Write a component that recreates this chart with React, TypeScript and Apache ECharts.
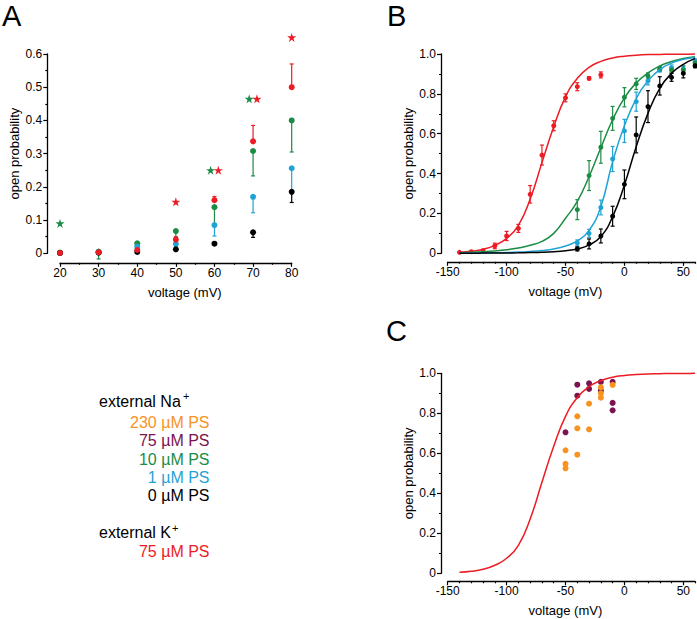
import React, { useEffect, useRef } from 'react';
import * as echarts from 'echarts';

const FONT = "'Liberation Sans', Arial, Helvetica, sans-serif";
const RED = '#ec1c24';
const GREEN = '#1b8c45';
const CYAN = '#1fa3d4';
const BLACK = '#000000';
const ORANGE = '#f7931e';
const PURPLE = '#7a1350';

// ---------- Panel A ----------
const voltageA = [20, 30, 40, 50, 60, 70, 80];
const poA_0 = [0.001, 0.002, 0.004, 0.012, 0.029, 0.063, 0.185];
const errA_0 = [0, 0, 0, 0, 0, 0.015, 0.032];
const poA_1 = [0.001, 0.003, 0.02, 0.028, 0.085, 0.17, 0.256];
const errA_1 = [0, 0, 0.005, 0.008, 0.033, 0.048, 0.07];
const poA_10 = [0.002, 0.005, 0.03, 0.067, 0.139, 0.308, 0.4];
const errA_10 = [0, 0.022, 0.005, 0.02, 0.054, 0.075, 0.095];
const poA_K = [0.001, 0.003, 0.01, 0.041, 0.16, 0.337, 0.5];
const errA_K = [0, 0.005, 0.003, 0.009, 0.011, 0.048, 0.07];
const starGreenX = [20, 59, 69];
const starGreenY = [0.09, 0.25, 0.465];
const starRedX = [50, 61, 71, 80];
const starRedY = [0.155, 0.25, 0.465, 0.65];

// ---------- Panel B ----------
const voltageK = [-140, -130, -120, -110, -100, -90, -80, -70, -60, -50, -40, -30, -20];
const poB_K = [0.005, 0.008, 0.013, 0.037, 0.087, 0.125, 0.296, 0.493, 0.64, 0.78, 0.836, 0.878, 0.895];
const errB_K = [0, 0, 0, 0.014, 0.023, 0.02, 0.044, 0.05, 0.025, 0.02, 0.02, 0.008, 0.015];
const voltageNa = [-40, -30, -20, -10, 0, 10, 20, 30, 40, 50, 60];
const poB_10 = [0.219, 0.39, 0.532, 0.677, 0.783, 0.85, 0.89, 0.925, 0.92, 0.92, 0.955];
const errB_10 = [0.05, 0.075, 0.08, 0.06, 0.048, 0.028, 0.015, 0.012, 0.015, 0.02, 0.01];
const poB_1 = [0.052, 0.1, 0.23, 0.473, 0.614, 0.761, 0.865, 0.92, 0.93, 0.925, 0.965];
const errB_1 = [0.015, 0.02, 0.037, 0.063, 0.058, 0.048, 0.02, 0.01, 0.015, 0.015, 0.01];
const poB_0 = [0.022, 0.047, 0.087, 0.186, 0.346, 0.594, 0.736, 0.84, 0.883, 0.903, 0.941];
const errB_0 = [0.01, 0.025, 0.035, 0.05, 0.072, 0.09, 0.08, 0.046, 0.02, 0.023, 0.01];

// fitted curves
const fitV = [-140, -130, -120, -110, -100, -90, -80, -70, -60, -50, -40, -30, -20, -10, 0, 10, 20, 30, 40, 50, 60];
const fitK = [0.005, 0.01, 0.02, 0.04, 0.075, 0.14, 0.272, 0.455, 0.635, 0.785, 0.878, 0.933, 0.963, 0.98, 0.989, 0.994, 0.997, 0.998, 0.999, 0.999, 1.0];
const fit10 = [0.003, 0.005, 0.008, 0.012, 0.018, 0.027, 0.04, 0.06, 0.1, 0.176, 0.26, 0.385, 0.53, 0.67, 0.78, 0.855, 0.905, 0.94, 0.962, 0.977, 0.986];
const fit1 = [0.001, 0.001, 0.002, 0.003, 0.004, 0.006, 0.009, 0.014, 0.022, 0.037, 0.062, 0.115, 0.235, 0.46, 0.64, 0.775, 0.865, 0.922, 0.954, 0.973, 0.984];
const fit0 = [0.0005, 0.0007, 0.001, 0.0013, 0.0018, 0.0025, 0.0035, 0.005, 0.008, 0.013, 0.022, 0.042, 0.084, 0.184, 0.343, 0.535, 0.702, 0.828, 0.903, 0.948, 0.978];

// ---------- Panel C ----------
const voltageC75 = [-50, -40, -40, -30, -30, -20, -20, -10, -10, -10];
const poC75 = [0.705, 0.943, 0.888, 0.95, 0.922, 0.957, 0.913, 0.957, 0.852, 0.815];
const voltageC230 = [-50, -50, -50, -40, -40, -40, -30, -30, -20, -20, -20, -10];
const poC230 = [0.615, 0.547, 0.525, 0.785, 0.725, 0.593, 0.848, 0.72, 0.93, 0.9, 0.878, 0.942];

// ---------- axis ticks ----------
const majorTicksV = [-150, -100, -50, 0, 50];
const minorTicksV = [-140, -130, -120, -110, -90, -80, -70, -60, -40, -30, -20, -10, 10, 20, 30, 40, 60];

// ---------- legend ----------
const legendNa = ['230 µM PS', '75 µM PS', '10 µM PS', '1 µM PS', '0 µM PS'];
const legendNaColors = [ORANGE, PURPLE, GREEN, CYAN, BLACK];
const legendK = ['75 µM PS'];

const STAR = 'path://M50 0L61.8 35.3H99L68.8 57.1L80.4 92.7L50 70.7L19.6 92.7L31.2 57.1L1 35.3H38.2Z';

function zip(xs: number[], ys: number[]) {
  return xs.map((x, i) => [x, ys[i]]);
}

function errData(xs: number[], ys: number[], down: number[], up: number[]) {
  return xs.map((x, i) => [x, ys[i] - down[i], ys[i] + up[i], ys[i]]);
}

function errSeries(data: number[][], color: string, xi: number, yi: number, cap = 2) {
  return {
    type: 'custom',
    xAxisIndex: xi,
    yAxisIndex: yi,
    clip: false,
    silent: true,
    encode: { x: 0, y: [1, 2] },
    data,
    renderItem: (params: any, api: any) => {
      const x = api.value(0);
      const lo = api.value(1);
      const hi = api.value(2);
      const y = api.value(3);
      const pLo = api.coord([x, lo]);
      const pHi = api.coord([x, hi]);
      const style = { stroke: color, lineWidth: 1.2 };
      const children: any[] = [
        { type: 'line', shape: { x1: pLo[0], y1: pLo[1], x2: pHi[0], y2: pHi[1] }, style },
      ];
      if (lo < y) {
        children.push({ type: 'line', shape: { x1: pLo[0] - cap, y1: pLo[1], x2: pLo[0] + cap, y2: pLo[1] }, style });
      }
      if (hi > y) {
        children.push({ type: 'line', shape: { x1: pHi[0] - cap, y1: pHi[1], x2: pHi[0] + cap, y2: pHi[1] }, style });
      }
      return { type: 'group', children };
    },
  };
}

function dots(data: number[][], color: string, xi: number, yi: number, size: number, symbol = 'circle') {
  return {
    type: 'scatter',
    xAxisIndex: xi,
    yAxisIndex: yi,
    clip: false,
    symbol,
    symbolSize: size,
    itemStyle: { color, opacity: 1 },
    data,
    silent: true,
  };
}

function curve(ys: number[], color: string, xi: number, yi: number) {
  return {
    type: 'line',
    xAxisIndex: xi,
    yAxisIndex: yi,
    clip: false,
    data: zip(fitV, ys),
    showSymbol: false,
    smooth: 0.5,
    lineStyle: { color, width: 1.5 },
    silent: true,
  };
}

const lineStyle = { color: '#000', width: 1.3 };
const tickStyle = { color: '#000', width: 1.2 };
const labelStyle = { color: '#000', fontSize: 12, fontFamily: FONT };
const nameStyle = { color: '#000', fontSize: 13, fontFamily: FONT };

function yFmt(v: number) {
  return v === 0 ? '0' : v.toFixed(1);
}

function buildOption() {
  const xAxis: any[] = [
    {
      gridIndex: 0, type: 'value', min: 20, max: 80, interval: 10, offset: 9.5,
      axisLine: { show: true, onZero: false, lineStyle },
      axisTick: { show: true, length: 4, lineStyle: tickStyle },
      minorTick: { show: true, splitNumber: 2, length: 2, lineStyle: tickStyle },
      splitLine: { show: false },
      axisLabel: { ...labelStyle, margin: 4 },
      name: 'voltage (mV)', nameLocation: 'middle', nameGap: 23,
      nameTextStyle: { ...nameStyle, padding: [0, 0, 0, 18] },
    },
    {
      gridIndex: 1, type: 'value', min: -150, max: 60, offset: 8.5,
      axisLine: { show: true, onZero: false, lineStyle },
      axisTick: { show: true, length: 4, lineStyle: tickStyle, customValues: majorTicksV },
      splitLine: { show: false },
      axisLabel: { ...labelStyle, margin: 4, customValues: majorTicksV },
      name: 'voltage (mV)', nameLocation: 'middle', nameGap: 23,
      nameTextStyle: { ...nameStyle, padding: [0, 12, 0, 0] },
    },
    {
      gridIndex: 2, type: 'value', min: -150, max: 60, offset: 8,
      axisLine: { show: true, onZero: false, lineStyle },
      axisTick: { show: true, length: 4, lineStyle: tickStyle, customValues: majorTicksV },
      splitLine: { show: false },
      axisLabel: { ...labelStyle, margin: 4, customValues: majorTicksV },
      name: 'voltage (mV)', nameLocation: 'middle', nameGap: 23,
      nameTextStyle: { ...nameStyle, padding: [0, 12, 0, 0] },
    },
    {
      gridIndex: 1, type: 'value', min: -150, max: 60, offset: 8.5, position: 'bottom',
      axisLine: { show: false, onZero: false },
      axisTick: { show: true, length: 2, lineStyle: tickStyle, customValues: minorTicksV },
      splitLine: { show: false },
      axisLabel: { show: false },
    },
    {
      gridIndex: 2, type: 'value', min: -150, max: 60, offset: 8, position: 'bottom',
      axisLine: { show: false, onZero: false },
      axisTick: { show: true, length: 2, lineStyle: tickStyle, customValues: minorTicksV },
      splitLine: { show: false },
      axisLabel: { show: false },
    },
  ];

  const yCommon = (grid: number, max: number, interval: number, offset: number) => ({
    gridIndex: grid, type: 'value', min: 0, max, interval, offset,
    axisLine: { show: true, onZero: false, lineStyle },
    axisTick: { show: true, length: 4, lineStyle: tickStyle },
    minorTick: { show: true, splitNumber: 2, length: 2, lineStyle: tickStyle },
    splitLine: { show: false },
    axisLabel: { ...labelStyle, margin: 5, formatter: yFmt },
    name: 'open probability', nameLocation: 'middle', nameGap: 26, nameTextStyle: nameStyle,
  });

  const yAxis: any[] = [yCommon(0, 0.6, 0.1, 12.7), yCommon(1, 1, 0.2, 6.7), yCommon(2, 1, 0.2, 6.7)];

  const grid = [
    { left: 60, top: 54, width: 231.7, height: 199.3 },
    { left: 447.7, top: 54, width: 247.4, height: 199.3 },
    { left: 447.7, top: 373.3, width: 247.4, height: 200 },
  ];

  const series: any[] = [
    // Panel A
    errSeries(errData(voltageA, poA_10, errA_10, voltageA.map(() => 0)), GREEN, 0, 0),
    dots(zip(voltageA, poA_10), GREEN, 0, 0, 6),
    errSeries(errData(voltageA, poA_1, errA_1, voltageA.map(() => 0)), CYAN, 0, 0),
    dots(zip(voltageA, poA_1), CYAN, 0, 0, 6),
    errSeries(errData(voltageA, poA_0, errA_0, voltageA.map(() => 0)), BLACK, 0, 0),
    dots(zip(voltageA, poA_0), BLACK, 0, 0, 6),
    errSeries(errData(voltageA, poA_K, voltageA.map(() => 0), errA_K), RED, 0, 0),
    dots(zip(voltageA, poA_K), RED, 0, 0, 6),
    dots(zip(starGreenX, starGreenY), GREEN, 0, 0, 9, STAR),
    dots(zip(starRedX, starRedY), RED, 0, 0, 9, STAR),

    // Panel B
    curve(fitK, RED, 1, 1),
    curve(fit10, GREEN, 1, 1),
    curve(fit1, CYAN, 1, 1),
    curve(fit0, BLACK, 1, 1),
    errSeries(errData(voltageK, poB_K, errB_K, errB_K), RED, 1, 1),
    dots(zip(voltageK, poB_K), RED, 1, 1, 5),
    errSeries(errData(voltageNa, poB_1, errB_1, errB_1), CYAN, 1, 1),
    dots(zip(voltageNa, poB_1), CYAN, 1, 1, 5),
    errSeries(errData(voltageNa, poB_10, errB_10, errB_10), GREEN, 1, 1),
    dots(zip(voltageNa, poB_10), GREEN, 1, 1, 5),
    errSeries(errData(voltageNa, poB_0, errB_0, errB_0), BLACK, 1, 1),
    dots(zip(voltageNa, poB_0), BLACK, 1, 1, 5),

    // Panel C
    curve(fitK, RED, 2, 2),
    dots(zip(voltageC75, poC75), PURPLE, 2, 2, 6),
    dots(zip(voltageC230, poC230), ORANGE, 2, 2, 6),
  ];

  const letter = (t: string, x: number, y: number) => ({
    type: 'text', x, y,
    style: { text: t, fontSize: 29, fontFamily: FONT, fill: '#000', align: 'left', verticalAlign: 'middle' },
  });

  const legendRows: any[] = [];
  legendNa.forEach((t, i) => {
    legendRows.push({
      type: 'text', x: 209.5, y: 422.5 + i * 18.35,
      style: { text: t, fontSize: 16, fontFamily: FONT, fill: legendNaColors[i], align: 'right', verticalAlign: 'middle' },
    });
  });
  legendK.forEach((t, i) => {
    legendRows.push({
      type: 'text', x: 209.5, y: 551 + i * 18.35,
      style: { text: t, fontSize: 16, fontFamily: FONT, fill: RED, align: 'right', verticalAlign: 'middle' },
    });
  });

  const graphic: any[] = [
    letter('A', 2, 16),
    letter('B', 387, 16),
    letter('C', 386, 331),
    { type: 'text', x: 99, y: 401, style: { text: 'external Na', fontSize: 16, fontFamily: FONT, fill: '#000', align: 'left', verticalAlign: 'middle' } },
    { type: 'text', x: 183, y: 396, style: { text: '+', fontSize: 11, fontFamily: FONT, fill: '#000', align: 'left', verticalAlign: 'middle' } },
    { type: 'text', x: 99, y: 532.5, style: { text: 'external K', fontSize: 16, fontFamily: FONT, fill: '#000', align: 'left', verticalAlign: 'middle' } },
    { type: 'text', x: 172, y: 528, style: { text: '+', fontSize: 11, fontFamily: FONT, fill: '#000', align: 'left', verticalAlign: 'middle' } },
    ...legendRows,
  ];

  return {
    animation: false,
    backgroundColor: '#ffffff',
    textStyle: { fontFamily: FONT },
    grid,
    xAxis,
    yAxis,
    series,
    graphic,
  };
}

export default function App() {
  const ref = useRef<HTMLDivElement>(null);
  useEffect(() => {
    if (!ref.current) return;
    const chart = echarts.init(ref.current, null, { renderer: 'svg' });
    chart.setOption(buildOption() as any);
    return () => chart.dispose();
  }, []);
  return (
    <div
      ref={ref}
      style={{ position: 'fixed', left: 0, top: 0, width: 697, height: 619, background: '#fff' }}
    />
  );
}
